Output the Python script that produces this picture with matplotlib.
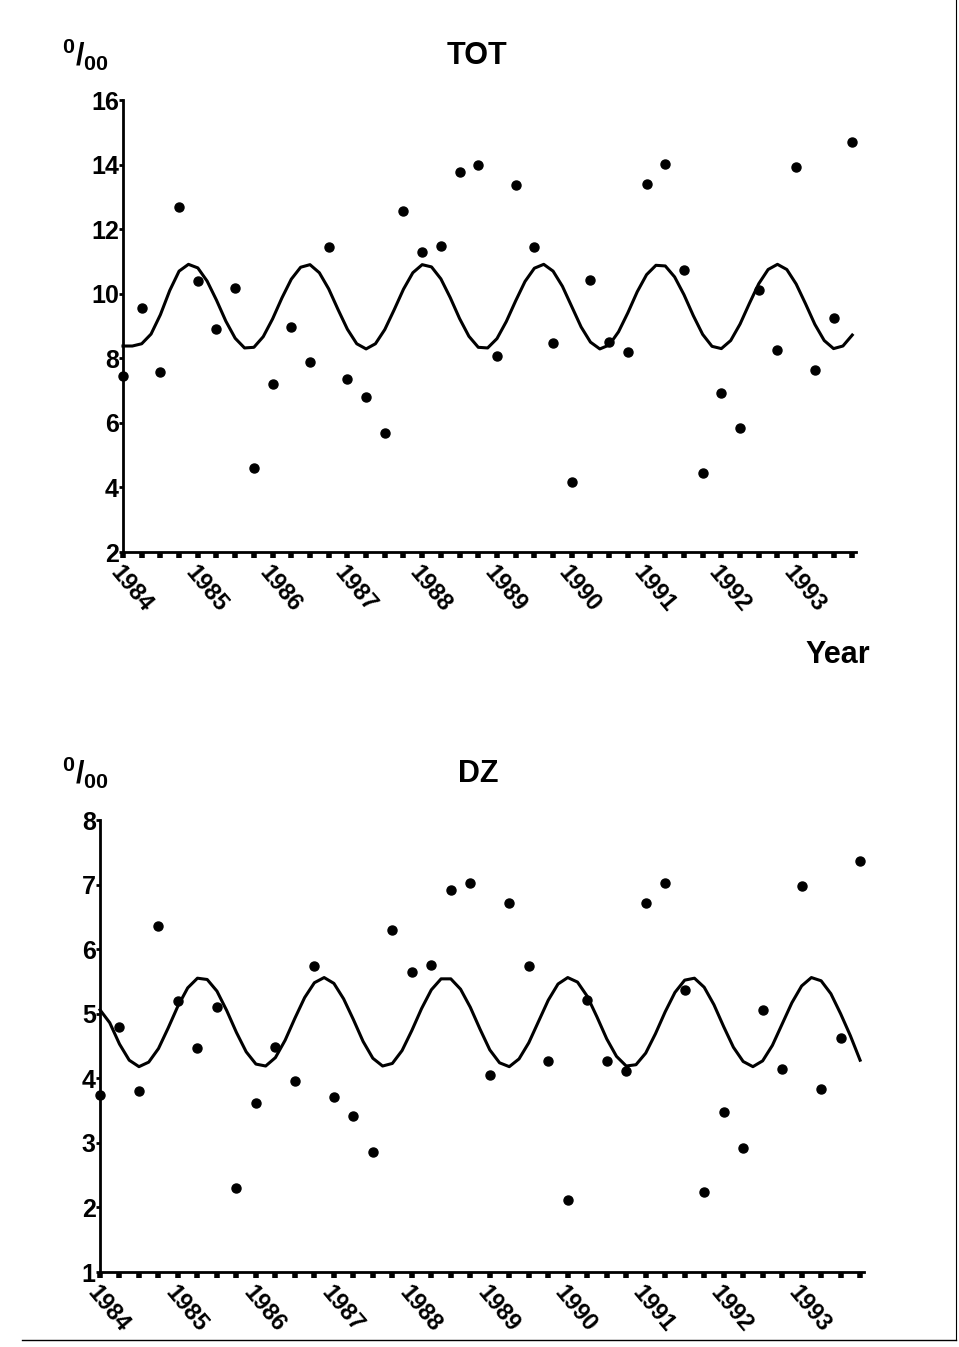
import numpy as np
import matplotlib
matplotlib.use("Agg")
import matplotlib.pyplot as plt
from matplotlib.lines import Line2D

plt.rcParams['font.family'] = ['Liberation Sans', 'DejaVu Sans']
plt.rcParams['font.weight'] = 'bold'
plt.rcParams['mathtext.fontset'] = 'custom'
plt.rcParams['mathtext.rm'] = 'Liberation Sans:bold'
plt.rcParams['mathtext.bf'] = 'Liberation Sans:bold'

# ---- data: quarterly observations 1984 Q1 .. 1993 Q4 ----
years = [1984, 1985, 1986, 1987, 1988, 1989, 1990, 1991, 1992, 1993]
year_labels = [str(y) for y in years]

tot_obs = [7.45, 9.57, 7.58, 12.69, 10.38, 8.92, 10.19, 4.59, 7.20, 8.98,
           7.89, 11.44, 7.36, 6.80, 5.70, 12.56, 11.28, 11.47, 13.78, 13.99,
           8.07, 13.37, 11.44, 8.48, 4.18, 10.41, 8.51, 8.20, 13.40, 14.02,
           10.72, 4.46, 6.92, 5.83, 10.10, 8.26, 13.93, 7.64, 9.26, 14.71]

dz_obs = [3.74, 4.80, 3.81, 6.36, 5.20, 4.47, 5.11, 2.30, 3.62, 4.49,
          3.96, 5.74, 3.71, 3.42, 2.86, 6.30, 5.65, 5.76, 6.91, 7.02,
          4.05, 6.71, 5.74, 4.26, 2.12, 5.22, 4.27, 4.12, 6.72, 7.03,
          5.37, 2.24, 3.48, 2.92, 5.06, 4.15, 6.98, 3.84, 4.63, 7.37]

# fitted seasonal curves, read every 1/8 year
tot_fit = [8.38, 8.38, 8.45, 8.75, 9.35, 10.10, 10.70, 10.91, 10.80, 10.39,
           9.80, 9.15, 8.62, 8.32, 8.34, 8.67, 9.22, 9.87, 10.45, 10.82,
           10.90, 10.65, 10.15, 9.51, 8.90, 8.45, 8.29, 8.45, 8.89, 9.50,
           10.14, 10.65, 10.90, 10.83, 10.46, 9.88, 9.23, 8.68, 8.34, 8.32,
           8.61, 9.14, 9.78, 10.38, 10.79, 10.91, 10.70, 10.23, 9.60, 8.97,
           8.50, 8.29, 8.41, 8.82, 9.41, 10.06, 10.59, 10.88, 10.86, 10.52,
           9.97, 9.32, 8.74, 8.37, 8.30, 8.55, 9.06, 9.70, 10.31, 10.75,
           10.91, 10.75, 10.30, 9.69, 9.05, 8.55, 8.30, 8.38, 8.72]

dz_fit = [5.06, 4.86, 4.53, 4.28, 4.18, 4.25, 4.46, 4.78, 5.12, 5.40,
          5.55, 5.53, 5.35, 5.05, 4.71, 4.41, 4.22, 4.19, 4.32, 4.59,
          4.93, 5.25, 5.48, 5.56, 5.47, 5.23, 4.91, 4.57, 4.31, 4.19,
          4.23, 4.43, 4.74, 5.08, 5.37, 5.54, 5.54, 5.38, 5.10, 4.76,
          4.44, 4.24, 4.18, 4.30, 4.55, 4.88, 5.21, 5.46, 5.56, 5.49,
          5.27, 4.95, 4.61, 4.34, 4.19, 4.21, 4.39, 4.69, 5.03, 5.33,
          5.52, 5.55, 5.41, 5.14, 4.80, 4.48, 4.26, 4.18, 4.27, 4.51,
          4.84, 5.17, 5.43, 5.56, 5.51, 5.31, 5.00, 4.66, 4.28]

quarters = 1984 + np.arange(len(tot_obs)) / 4
fit_x = 1984 + np.arange(len(tot_fit)) / 8

W, H = 959, 1347
fig = plt.figure(figsize=(W / 100, H / 100), dpi=100)


def fx(px):
    return px / W


def fy(py):
    return 1 - py / H


def style(ax, ylo, yhi, yticks):
    ax.set_xlim(1984, 1993.8)
    ax.set_ylim(ylo, yhi)
    for s in ['top', 'right']:
        ax.spines[s].set_visible(False)
    for s in ['left', 'bottom']:
        ax.spines[s].set_linewidth(2.0)
    ax.set_yticks(yticks)
    ax.set_yticklabels([str(v) for v in yticks], fontsize=18, fontweight='bold')
    ax.tick_params(axis='y', length=3, width=2, pad=0, direction='out')
    ax.set_xticks(years)
    ax.set_xticklabels(year_labels, rotation=-50, ha='left', va='top',
                       rotation_mode='anchor', fontsize=17, fontweight='bold')
    ax.set_xticks(quarters, minor=True)
    ax.tick_params(axis='x', which='both', length=4, width=4, direction='out', pad=3)


# ---- top: TOT ----
ax1 = fig.add_axes([fx(123), fy(552), fx(733), 452 / H])
ax1.plot(fit_x, tot_fit, color='black', lw=2.2, solid_joinstyle='round', clip_on=False)
ax1.plot(quarters, tot_obs, 'o', color='black', ms=6.5, clip_on=False)
style(ax1, 2, 16, [2, 4, 6, 8, 10, 12, 14, 16])

fig.text(fx(477), fy(56), 'TOT', ha='center', va='center', fontsize=22, fontweight='bold')
fig.text(fx(85), fy(55), r'$^{0}/_{00}$', ha='center', va='center', fontsize=22)
fig.text(fx(870), fy(655), 'Year', ha='right', va='center', fontsize=22, fontweight='bold')

# ---- bottom: DZ ----
ax2 = fig.add_axes([fx(100), fy(1272), fx(764), 452 / H])
ax2.plot(fit_x, dz_fit, color='black', lw=2.2, solid_joinstyle='round', clip_on=False)
ax2.plot(quarters, dz_obs, 'o', color='black', ms=6.5, clip_on=False)
style(ax2, 1, 8, [1, 2, 3, 4, 5, 6, 7, 8])

fig.text(fx(478), fy(774), 'DZ', ha='center', va='center', fontsize=22, fontweight='bold')
fig.text(fx(85), fy(773), r'$^{0}/_{00}$', ha='center', va='center', fontsize=22)

# page frame (right and bottom edge of the scanned box)
fig.add_artist(Line2D([fx(956), fx(956)], [fy(0), fy(1340)], color='black', lw=0.8))
fig.add_artist(Line2D([fx(22), fx(956)], [fy(1340), fy(1340)], color='black', lw=1.0))

fig.savefig('out.png', dpi=100)
